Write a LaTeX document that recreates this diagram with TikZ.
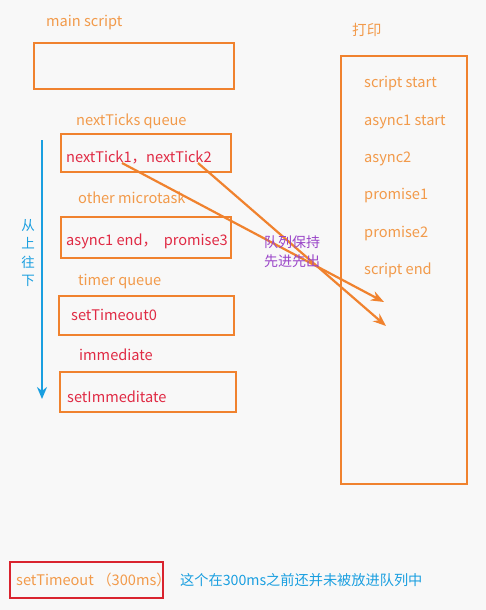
\documentclass[tikz,border=0pt]{standalone}
\usepackage{fontspec}
\setmainfont{Noto Sans CJK SC}
\usetikzlibrary{arrows.meta}
\definecolor{boxor}{HTML}{F0822E}
\definecolor{lblor}{HTML}{F29A4A}
\definecolor{txred}{HTML}{E02A44}
\definecolor{txblue}{HTML}{1A9FE0}
\definecolor{txpurp}{HTML}{9A45C8}
\definecolor{bg}{HTML}{F8F8F8}
\definecolor{redbox}{HTML}{D9232E}
\tikzset{
  qbox/.style={draw=boxor, line width=1.6pt, inner sep=0pt},
  lbl/.style={anchor=base west, inner sep=0pt, font=\fontsize{14.6}{16}\selectfont, text=lblor},
  rtx/.style={anchor=base west, inner sep=0pt, font=\fontsize{14.6}{16}\selectfont, text=txred},
  flow/.style={draw=boxor, line width=2.2pt, -{Stealth[length=13pt,width=10pt]}},
}
\begin{document}
\begin{tikzpicture}[x=1pt,y=-1pt]
\fill[bg] (0,0) rectangle (486,610);
\useasboundingbox (0,0) rectangle (486,610);

% left column
\node[lbl] (lmain) at (46,27) {main script};
\node[qbox, minimum width=200pt, minimum height=46pt] (bmain) at (134,66) {};

\node[lbl] (lnt) at (76,125) {nextTicks queue};
\node[qbox, minimum width=170pt, minimum height=38pt] (bnt) at (146,153) {};
\node[rtx] (tnt) at (66,162) {nextTick1，nextTick2};

\node[lbl] (lom) at (78,203) {other microtask};
\node[qbox, minimum width=170pt, minimum height=41pt] (bom) at (146,237.5) {};
\node[rtx] (tom) at (66,245) {async1 end，\ \ promise3};

\node[lbl] (ltq) at (78,285) {timer queue};
\node[qbox, minimum width=175pt, minimum height=39pt] (btq) at (146.5,315.5) {};
\node[rtx] (ttq) at (71,320) {setTimeout0};

\node[rtx] (lim) at (79,360) {immediate};
\node[qbox, minimum width=176pt, minimum height=40pt] (bim) at (148,392) {};
\node[rtx] (tim) at (67,402) {setImmeditate};

% blue arrow
\coordinate (btop) at (42,140);
\coordinate (bbot) at (42,399);
\draw[txblue, line width=2.6pt, -{Stealth[length=12pt,width=10pt]}] (btop) -- (bbot);
\node[text=txblue, font=\fontsize{13.5}{18.5}\selectfont, align=center, inner sep=0pt] (tdown) at (28,253) {从\\上\\往\\下};

% right column
\node[lbl] (lprint) at (352,36) {打印};
\node[qbox, minimum width=126pt, minimum height=428pt] (bprint) at (404,270) {};
\node[lbl] (p1) at (364,88) {script start};
\node[lbl] (p2) at (364,125) {async1 start};
\node[lbl] (p3) at (364,162) {async2};
\node[lbl] (p4) at (364,199) {promise1};
\node[lbl] (p5) at (364,237) {promise2};
\node[lbl] (p6) at (364,274) {script end};

% FIFO arrows
\coordinate (s1) at (122,163);
\coordinate (e1) at (384,302);
\coordinate (s2) at (198,163);
\coordinate (e2) at (386,326);
\draw[flow] (s1) -- (e1);
\draw[flow] (s2) -- (e2);
\node[text=txpurp, font=\fontsize{14}{19}\selectfont, align=left, inner sep=0pt, anchor=west] (fifo) at (264,252) {队列保持\\先进先出};

% bottom
\node[draw=redbox, line width=1.6pt, minimum width=153pt, minimum height=36pt, inner sep=0pt] (bst) at (86.5,580) {};
\node[lbl] (tst) at (16,585) {setTimeout （300ms）};
\node[anchor=base west, inner sep=0pt, font=\fontsize{14.2}{16}\selectfont, text=txblue] (note) at (180,585) {这个在300ms之前还并未被放进队列中};
\end{tikzpicture}
\end{document}
